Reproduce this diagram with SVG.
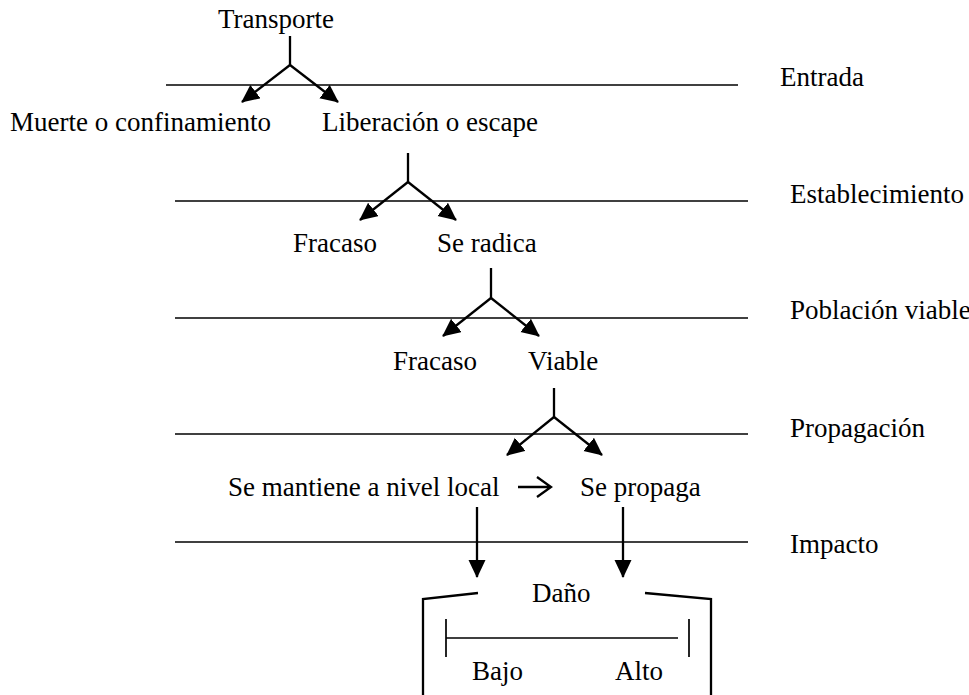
<svg xmlns="http://www.w3.org/2000/svg" width="969" height="695" viewBox="0 0 969 695">
<style>
text{font-family:"Liberation Serif","Times New Roman",serif;font-size:27px;fill:#000}
.ln{stroke:#000;stroke-width:1.7;fill:none}
.ar{stroke:#000;stroke-width:2.3;fill:none}
</style>
<defs>
<marker id="ah" markerUnits="userSpaceOnUse" markerWidth="20" markerHeight="18" refX="17" refY="8.5" orient="auto">
<path d="M0,0 L18,8.5 L0,17 Z" fill="#000"/>
</marker>
</defs>
<rect width="969" height="695" fill="#fff"/>
<g id="levels">
<line class="ln" x1="166" y1="85" x2="738" y2="85"/>
<line class="ln" x1="175" y1="201" x2="748" y2="201"/>
<line class="ln" x1="175" y1="318" x2="748" y2="318"/>
<line class="ln" x1="175" y1="434" x2="748" y2="434"/>
<line class="ln" x1="175" y1="542" x2="748" y2="542"/>
<text x="780" y="86">Entrada</text>
<text x="790" y="203">Establecimiento</text>
<text x="790" y="319">Población viable</text>
<text x="790" y="437">Propagación</text>
<text x="790" y="553">Impacto</text>
</g>
<g id="connectors">
<path class="ar" d="M290,36 V65"/>
<path class="ar" d="M290,65 L338,102" marker-end="url(#ah)"/>
<path class="ar" d="M290,65 L242,102" marker-end="url(#ah)"/>
<path class="ar" d="M408,153 V182"/>
<path class="ar" d="M408,182 L360,220" marker-end="url(#ah)"/>
<path class="ar" d="M408,182 L456,220" marker-end="url(#ah)"/>
<path class="ar" d="M491,268 V298"/>
<path class="ar" d="M491,298 L443,336" marker-end="url(#ah)"/>
<path class="ar" d="M491,298 L539,336" marker-end="url(#ah)"/>
<path class="ar" d="M554,388 V417"/>
<path class="ar" d="M554,417 L507,455" marker-end="url(#ah)"/>
<path class="ar" d="M554,417 L602,455" marker-end="url(#ah)"/>
<path class="ar" d="M518,487 H550 M537,477 L551,487 L537,497"/>
<path class="ar" d="M477,507 V577" marker-end="url(#ah)"/>
<path class="ar" d="M623,507 V577" marker-end="url(#ah)"/>
</g>
<g id="n-transporte"><text x="218" y="28">Transporte</text></g>
<g id="n-muerte"><text x="10" y="131">Muerte o confinamiento</text></g>
<g id="n-liberacion"><text x="322" y="131">Liberación o escape</text></g>
<g id="n-fracaso1"><text x="293" y="252">Fracaso</text></g>
<g id="n-radica"><text x="437" y="252">Se radica</text></g>
<g id="n-fracaso2"><text x="393" y="370">Fracaso</text></g>
<g id="n-viable"><text x="528" y="370">Viable</text></g>
<g id="n-local"><text x="228" y="496">Se mantiene a nivel local</text></g>
<g id="n-propaga"><text x="580" y="496">Se propaga</text></g>
<g id="n-dano">
<path class="ar" d="M478,593 L423,599 V695"/>
<path class="ar" d="M645,593 L711,599 V695"/>
<text x="532" y="602">Daño</text>
<path class="ln" d="M446,638 H678 M446,619 V657 M689,619 V657"/>
<text x="472" y="680">Bajo</text>
<text x="615" y="680">Alto</text>
</g>
</svg>
